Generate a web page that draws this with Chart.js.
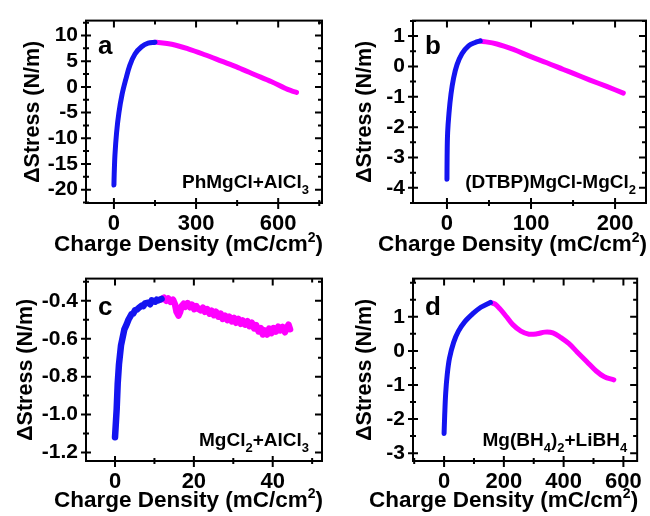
<!DOCTYPE html>
<html>
<head>
<meta charset="utf-8">
<script src="https://cdn.jsdelivr.net/npm/chart.js@4.4.1/dist/chart.umd.min.js"></script>
<style>
    body { margin: 0; background: #fff; }
    #wrap { position: relative; width: 650px; height: 516px; }
    .panel { position: absolute; width: 325px; height: 258px; }
</style>
</head>
<body>
<div id="wrap">
    <div class="panel" style="left:0;top:0"><canvas id="chartA"></canvas></div>
    <div class="panel" style="left:325px;top:0"><canvas id="chartB"></canvas></div>
    <div class="panel" style="left:0;top:258px"><canvas id="chartC"></canvas></div>
    <div class="panel" style="left:325px;top:258px"><canvas id="chartD"></canvas></div>
</div>
<script>
// panel a: PhMgCl+AlCl3  (1 = blue part, 2 = magenta part)
const chargeA1 = [0, 1, 3.7, 9.7, 18, 30, 43, 58, 77, 101, 125, 150];
const stressA1 = [-19.1, -17, -13.3, -8.9, -5.1, -1.4, 1.4, 4.2, 6.4, 7.8, 8.5, 8.7];
const chargeA2 = [150, 156, 211, 271, 332, 393, 454, 515, 576, 625, 649, 667];
const stressA2 = [8.7, 8.7, 8.3, 7.4, 6.25, 5.0, 3.74, 2.37, 1.0, -0.26, -0.76, -1.07];
const xTicksA = [0, 300, 600];
const yTicksA = [-20, -15, -10, -5, 0, 5, 10];

// panel b: (DTBP)MgCl-MgCl2
const chargeB1 = [0, 0.2, 0.8, 2.4, 4.8, 7.9, 11.9, 17.8, 25.7, 33.6, 39.6];
const stressB1 = [-3.72, -2.92, -2.18, -1.54, -0.91, -0.38, 0.05, 0.42, 0.68, 0.79, 0.84];
const chargeB2 = [39.6, 59.4, 79, 99, 118.8, 138.5, 150.4, 170.2, 190, 209.8];
const stressB2 = [0.84, 0.74, 0.56, 0.33, 0.12, -0.1, -0.23, -0.45, -0.66, -0.88];
const xTicksB = [0, 100, 200];
const yTicksB = [-4, -3, -2, -1, 0, 1];

// panel c: MgCl2+AlCl3 (noisy trace)
const chargeC1 = [0, 0.42, 0.68, 1.0, 1.52, 2.37, 3.0, 3.4, 4.2, 4.6, 5.07, 5.6, 6.0, 6.8, 7.2, 7.6, 8.4, 8.9, 9.3, 10.2, 10.6, 11.0, 11.8];
const stressC1 = [-1.12, -0.972, -0.837, -0.736, -0.635, -0.551, -0.522, -0.5, -0.47, -0.468, -0.45, -0.446, -0.438, -0.425, -0.428, -0.414, -0.41, -0.418, -0.398, -0.405, -0.394, -0.398, -0.39];
const chargeC2 = [11.8, 12.4, 13.0, 13.5, 14.1, 14.7, 15.2, 15.6, 16.1, 16.5, 16.9, 17.4, 17.8, 18.4, 19.0, 19.5,
    20.1, 20.6, 21.1, 21.7, 22.3, 22.8, 23.4, 24.0, 24.5, 25.1, 25.6, 26.2, 26.8, 27.3, 27.9, 28.5, 29.0, 29.6,
    30.2, 30.7, 31.3, 31.9, 32.4, 33.0, 33.6, 34.1, 34.7, 35.3, 35.8, 36.4, 37.0, 37.5, 38.0, 38.6, 39.1, 39.7,
    40.2, 40.8, 41.4, 41.9, 42.5, 43.1, 43.6, 44.0, 44.4];
const stressC2 = [-0.392, -0.384, -0.4, -0.388, -0.406, -0.394, -0.418, -0.458, -0.478, -0.46, -0.428, -0.416, -0.432, -0.412, -0.434, -0.42,
    -0.444, -0.428, -0.442, -0.45, -0.436, -0.458, -0.444, -0.468, -0.452, -0.476, -0.458, -0.484, -0.468, -0.496, -0.478, -0.502, -0.484, -0.508,
    -0.49, -0.516, -0.496, -0.522, -0.504, -0.526, -0.508, -0.534, -0.516, -0.546, -0.528, -0.562, -0.544, -0.578, -0.556, -0.578, -0.546, -0.57,
    -0.544, -0.562, -0.536, -0.556, -0.538, -0.566, -0.542, -0.526, -0.55];
const xTicksC = [0, 20, 40];
const yTicksC = [-1.2, -1.0, -0.8, -0.6, -0.4];

// panel d: Mg(BH4)2+LiBH4
const chargeD1 = [0, 2, 5.4, 10.7, 18.2, 32, 48, 69.6, 96, 123, 150, 155];
const stressD1 = [-2.42, -1.9, -1.24, -0.68, -0.21, 0.25, 0.58, 0.86, 1.09, 1.28, 1.4, 1.42];
const chargeD2 = [155, 171, 187, 209, 230, 257, 284, 311, 337, 364, 391, 418, 445, 477, 509, 536, 568];
const stressD2 = [1.42, 1.37, 1.23, 1.0, 0.77, 0.58, 0.49, 0.5, 0.55, 0.53, 0.39, 0.21, -0.03, -0.31, -0.59, -0.76, -0.85];
const xTicksD = [0, 200, 400, 600];
const yTicksD = [-3, -2, -1, 0, 1];

const BLUE = '#1414f0';
const PINK = '#ff00ff';
const FONT = '"Liberation Sans", Arial, sans-serif';
// x title pieces: [text, superscript?]
const X_TITLE = [['Charge Density (mC/cm', false], ['2', true], [')', false]];

Chart.defaults.font.family = FONT;
Chart.defaults.font.weight = 'bold';
Chart.defaults.color = '#000';

const toPoints = (xs, ys) => xs.map((x, i) => ({x: x, y: ys[i]}));

// box frame + major/minor ticks on all four sides
const frameTicks = {
    id: 'frameTicks',
    afterDraw(chart, args, o) {
        const {ctx, chartArea: a} = chart;
        const xs = chart.scales.x, ys = chart.scales.y;
        const steps = (s, step) => {
            const out = [];
            for (let k = Math.ceil(s.min / step - 1e-9); k * step <= s.max + 1e-9; k++) out.push(k * step);
            return out;
        };
        const isMajor = (s, v) => s.ticks.some(t => Math.abs(t.value - v) < 1e-6);
        ctx.save();
        ctx.strokeStyle = '#000';
        ctx.lineWidth = 2;
        ctx.strokeRect(a.left, a.top, a.right - a.left, a.bottom - a.top);
        ctx.beginPath();
        steps(xs, o.minorX).forEach(v => {
            const px = xs.getPixelForValue(v);
            const m = isMajor(xs, v);
            ctx.moveTo(px, a.bottom + (m ? 6 : 3));
            ctx.lineTo(px, a.bottom - (m ? 5 : 3));
            ctx.moveTo(px, a.top);
            ctx.lineTo(px, a.top + (m ? 7 : 4));
        });
        steps(ys, o.minorY).forEach(v => {
            const py = ys.getPixelForValue(v);
            const m = isMajor(ys, v);
            ctx.moveTo(a.left - (m ? 5 : 3), py);
            ctx.lineTo(a.left + (m ? 5 : 3), py);
            ctx.moveTo(a.right, py);
            ctx.lineTo(a.right - (m ? 7 : 4), py);
        });
        ctx.stroke();
        ctx.restore();
    }
};

// panel letter, electrolyte name (with subscripts) and the x-axis title
const panelText = {
    id: 'panelText',
    afterDraw(chart, args, o) {
        const {ctx, chartArea: a} = chart;
        ctx.save();
        ctx.fillStyle = '#000';
        ctx.textBaseline = 'alphabetic';
        ctx.textAlign = 'left';
        ctx.font = 'bold 26px ' + FONT;
        ctx.fillText(o.letter, a.left + 12, a.top + o.letterDy);

        // write a run of pieces ending at xRight; shifted pieces use the small font
        const writeRun = (pieces, bigFont, smallFont, xRight, y, shift) => {
            let w = 0;
            pieces.forEach(([t, s]) => { ctx.font = s ? smallFont : bigFont; w += ctx.measureText(t).width; });
            let x = xRight - w;
            pieces.forEach(([t, s]) => {
                ctx.font = s ? smallFont : bigFont;
                ctx.fillText(t, x, s ? y + shift : y);
                x += ctx.measureText(t).width;
            });
        };
        writeRun(o.label, 'bold 19px ' + FONT, 'bold 13px ' + FONT, a.right - o.labelDx, a.bottom - 15, 6);
        // x title, right aligned with the plot box, allowed to run past its left edge
        writeRun(X_TITLE, 'bold 22.5px ' + FONT, 'bold 14px ' + FONT, a.right + 1, o.xTitleY, -9);
        ctx.restore();
    }
};

function makePanel(id, p) {
    const ctx = document.getElementById(id).getContext('2d');
    return new Chart(ctx, {
        type: 'scatter',
        data: {
            datasets: [{
                data: toPoints(p.x1, p.y1),
                borderColor: BLUE
            }, {
                data: toPoints(p.x2, p.y2),
                borderColor: PINK
            }]
        },
        options: {
            responsive: true,
            maintainAspectRatio: false,
            animation: false,
            showLine: true,
            elements: {
                point: { radius: 0 },
                line: { borderWidth: p.lineWidth, tension: p.tension, borderCapStyle: 'round', borderJoinStyle: 'round', fill: false }
            },
            layout: { padding: { left: 0, right: 325 - p.right, top: p.top, bottom: 0 } },
            scales: {
                x: {
                    min: p.xMin, max: p.xMax,
                    grid: { display: false, drawTicks: false },
                    border: { display: false },
                    afterBuildTicks: s => { s.ticks = p.xTicks.map(v => ({value: v})); },
                    afterFit: s => { s.height = 258 - 203; },
                    ticks: { font: { size: 22, weight: 'bold' }, padding: 8, maxRotation: 0 },
                    title: { display: false }
                },
                y: {
                    min: p.yMin, max: p.yMax,
                    grid: { display: false, drawTicks: false },
                    border: { display: false },
                    afterBuildTicks: s => { s.ticks = p.yTicks.map(v => ({value: v})); },
                    afterFit: s => { s.width = p.left; },
                    ticks: { font: { size: 21, weight: 'bold' }, padding: 8, callback: p.yFormat },
                    title: {
                        display: true,
                        text: '\u0394Stress (N/m)',
                        font: { size: 21.5, weight: 'bold' },
                        padding: { top: p.yTitlePad, bottom: 0 }
                    }
                }
            },
            plugins: {
                legend: { display: false },
                tooltip: { enabled: false },
                frameTicks: { minorX: p.minorX, minorY: p.minorY },
                panelText: { letter: p.letter, letterDy: p.letterDy, label: p.label, labelDx: p.labelDx, xTitleY: p.xTitleY }
            }
        },
        plugins: [frameTicks, panelText]
    });
}

document.addEventListener('DOMContentLoaded', function() {
    makePanel('chartA', {
        x1: chargeA1, y1: stressA1, x2: chargeA2, y2: stressA2,
        xTicks: xTicksA, yTicks: yTicksA, xMin: -102, xMax: 760, yMin: -22.6, yMax: 12.9,
        minorX: 150, minorY: 2.5, left: 86, right: 322, top: 14,
        xTitleY: 251, yTitlePad: 20.6, lineWidth: 5, tension: 0.35,
        letter: 'a', letterDy: 33, labelDx: 13,
        label: [['PhMgCl+AlCl', false], ['3', true]]
    });
    makePanel('chartB', {
        x1: chargeB1, y1: stressB1, x2: chargeB2, y2: stressB2,
        xTicks: xTicksB, yTicks: yTicksB, xMin: -40.4, xMax: 236.8, yMin: -4.5, yMax: 1.51,
        minorX: 50, minorY: 0.5, left: 88, right: 321, top: 14,
        xTitleY: 251, yTitlePad: 27, lineWidth: 5, tension: 0.35,
        letter: 'b', letterDy: 33, labelDx: 10,
        label: [['(DTBP)MgCl-MgCl', false], ['2', true]]
    });
    makePanel('chartC', {
        x1: chargeC1, y1: stressC1, x2: chargeC2, y2: stressC2,
        xTicks: xTicksC, yTicks: yTicksC, xMin: -7.36, xMax: 52.5, yMin: -1.245, yMax: -0.283,
        minorX: 10, minorY: 0.1, left: 86, right: 322, top: 12,
        xTitleY: 249, yTitlePad: 13, lineWidth: 6.5, tension: 0,
        yFormat: v => v.toFixed(1),
        letter: 'c', letterDy: 36, labelDx: 13,
        label: [['MgCl', false], ['2', true], ['+AlCl', false], ['3', true]]
    });
    makePanel('chartD', {
        x1: chargeD1, y1: stressD1, x2: chargeD2, y2: stressD2,
        xTicks: xTicksD, yTicks: yTicksD, xMin: -104, xMax: 646, yMin: -3.23, yMax: 2.12,
        minorX: 100, minorY: 0.5, left: 88, right: 321, top: 12,
        xTitleY: 249, yTitlePad: 27, lineWidth: 5, tension: 0.35,
        letter: 'd', letterDy: 36, labelDx: 10,
        label: [['Mg(BH', false], ['4', true], [')', false], ['2', true], ['+LiBH', false], ['4', true]]
    });
});
</script>
</body>
</html>
